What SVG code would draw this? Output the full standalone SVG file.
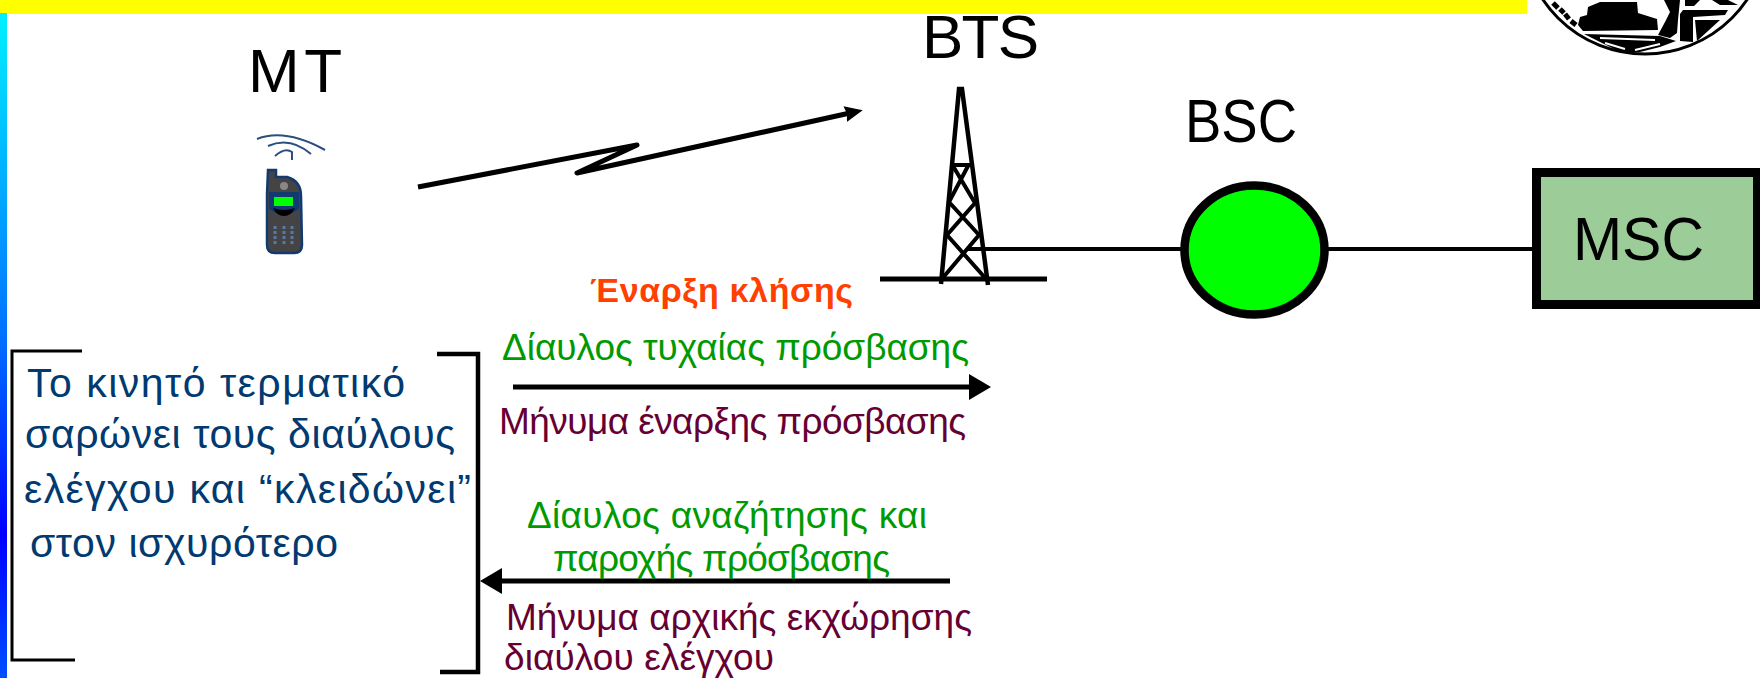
<svg xmlns="http://www.w3.org/2000/svg" width="1760" height="678" viewBox="0 0 1760 678">
<defs>
<linearGradient id="side" gradientUnits="userSpaceOnUse" x1="0" y1="13" x2="0" y2="678"><stop offset="0" stop-color="#00f0ff"/><stop offset="0.49" stop-color="#0070ff"/><stop offset="0.785" stop-color="#0000ff"/><stop offset="1" stop-color="#0050ff"/></linearGradient>
<marker id="ah" markerUnits="userSpaceOnUse" markerWidth="24" markerHeight="28" refX="8" refY="14" orient="auto"><path d="M0 1 L22 14 L0 27 Z" fill="#000"/></marker>
<marker id="ahs" markerUnits="userSpaceOnUse" markerWidth="20" markerHeight="18" refX="5" refY="8" orient="auto"><path d="M0 0 L18 8 L0 16 L2 8 Z" fill="#000"/></marker>
</defs>
<style>
text{font-family:"Liberation Sans","DejaVu Sans",sans-serif}
.lab{font-size:62px;fill:#000}
.blue{font-size:41px;fill:#003a70}
.green{font-size:37px;fill:#009a00}
.plum{font-size:37px;fill:#660033}
.ln{fill:none;stroke:#000;stroke-linecap:butt}
</style>
<rect width="1760" height="678" fill="#fff"/>
<rect id="topbar" x="0" y="0" width="1527" height="14" fill="#ffff00"/>
<rect id="sidebar" x="0" y="13" width="7" height="665" fill="url(#side)"/>
<g id="logo">
<circle cx="1645" cy="-69" r="123" fill="#fff" stroke="#000" stroke-width="3"/>
<path d="M1578 25 L1580 17 L1587 15 L1588 7 L1600 2 L1620 2 L1637 2 L1638 13 L1657 19 L1658 30 L1583 31 Z" fill="#000"/>
<path d="M1584 34 L1660 36 L1676 41 L1660 47 L1640 52 L1620 52 L1600 42 Z" fill="#000"/>
<path d="M1600 38 L1655 40 M1605 43 L1625 49 M1635 50 L1660 44" fill="none" stroke="#fff" stroke-width="2"/>
<path d="M1664 0 L1680 0 L1678 20 L1677 33 L1670 38 L1658 35 L1665 22 L1670 12 Z" fill="#000"/>
<path d="M1683 10 L1728 10 L1725 15 L1693 17 L1693 42 L1680 41 L1680 14 Z" fill="#000"/>
<path d="M1695 20 L1720 20 L1697 41 Z" fill="#000"/>
<path d="M1685 0 H1700 L1694 6 H1685 Z M1712 0 H1728 L1738 5 H1720 Z" fill="#000"/>
<path d="M1553 3 L1558 8 M1560 9 L1564 13 M1565 14 L1569 19 M1571 21 L1576 25" fill="none" stroke="#000" stroke-width="5"/>
</g>
<g id="connectors">
<path class="ln" stroke-width="5" stroke-linejoin="round" marker-end="url(#ahs)" d="M418 187 L637 145 L577 173 L850 113"/>
<path class="ln" stroke-width="4" d="M968 249 H1185"/>
<path class="ln" stroke-width="4" d="M1325 249 H1540"/>
<path class="ln" stroke-width="5" marker-end="url(#ah)" d="M513 387 H977"/>
<path class="ln" stroke-width="5" marker-end="url(#ah)" d="M950 581 H494"/>
</g>
<g id="MT">
<text class="lab" x="248" y="92" textLength="94">MT</text>
<g id="phone">
<path d="M257 139 Q285 128 325 150 M268 146 Q290 136 311 154 M275 156 Q285 147 292 152 L292 160" fill="none" stroke="#2a4f80" stroke-width="2"/>
<path d="M268 170 H276 V177 H287 Q301 181 301 196 L302 245 Q302 253 294 253 H275 Q267 253 267 245 V194 Z" fill="#444" stroke="#123a70" stroke-width="2.5"/>
<path d="M269 192 H299 V209 Q284 220 269 209 Z" fill="#123a70"/>
<rect x="274" y="197" width="19" height="9" fill="#00ff00"/>
<path d="M273 208 Q284 212 295 208 Q291 216 284 216 Q277 216 273 208 Z" fill="#000"/>
<circle cx="284" cy="186" r="4" fill="#888"/>
<path d="M275 226 V245 M284 226 V245 M292 226 V245" stroke="#5a78aa" stroke-width="3" stroke-dasharray="3 2"/>
</g>
</g>
<g id="BTS">
<text class="lab" x="922" y="58" textLength="117">BTS</text>
<path class="ln" stroke-width="5" d="M880 279 H1047"/>
<path class="ln" stroke-width="4.5" d="M941 284 L959 89 H962 L988 285"/>
<path class="ln" stroke-width="4" d="M950 165 H970 M953 166 L975 203 L947 235 L987 280 M968 166 L949 202 L979 235 L941 280"/>
</g>
<g id="BSC">
<text class="lab" x="1185" y="142" textLength="112" lengthAdjust="spacingAndGlyphs">BSC</text>
<ellipse cx="1254.500" cy="250" rx="70" ry="64.500" fill="#00ff00" stroke="#000" stroke-width="8.500"/>
</g>
<g id="MSC">
<rect x="1536.500" y="172.500" width="221" height="132" fill="#9ccc98" stroke="#000" stroke-width="9"/>
<text class="lab" x="1573" y="260" textLength="131" lengthAdjust="spacingAndGlyphs">MSC</text>
</g>
<g id="note">
<path class="ln" stroke-width="3" d="M82 351 H12 V660 H75"/>
<path class="ln" stroke-width="4.500" d="M437 354 H478 V672 H440"/>
<text class="blue" x="27" y="397" textLength="378">Το κινητό τερματικό</text>
<text class="blue" x="25" y="448" textLength="430">σαρώνει τους διαύλους</text>
<text class="blue" x="24" y="503" textLength="447">ελέγχου και “κλειδώνει”</text>
<text class="blue" x="30" y="557" textLength="308">στον ισχυρότερο</text>
</g>
<g id="labels">
<text x="590" y="302" font-size="34" font-weight="700" fill="#ff4000" textLength="263">Έναρξη κλήσης</text>
<text class="green" x="502" y="360" textLength="467">Δίαυλος τυχαίας πρόσβασης</text>
<text class="plum" x="499" y="434" textLength="467">Μήνυμα έναρξης πρόσβασης</text>
<text class="green" x="527" y="528" textLength="400">Δίαυλος αναζήτησης και</text>
<text class="green" x="553" y="571" textLength="337">παροχής πρόσβασης</text>
<text class="plum" x="506" y="630" textLength="466">Μήνυμα αρχικής εκχώρησης</text>
<text class="plum" x="504" y="670" textLength="270">διαύλου ελέγχου</text>
</g>
</svg>
